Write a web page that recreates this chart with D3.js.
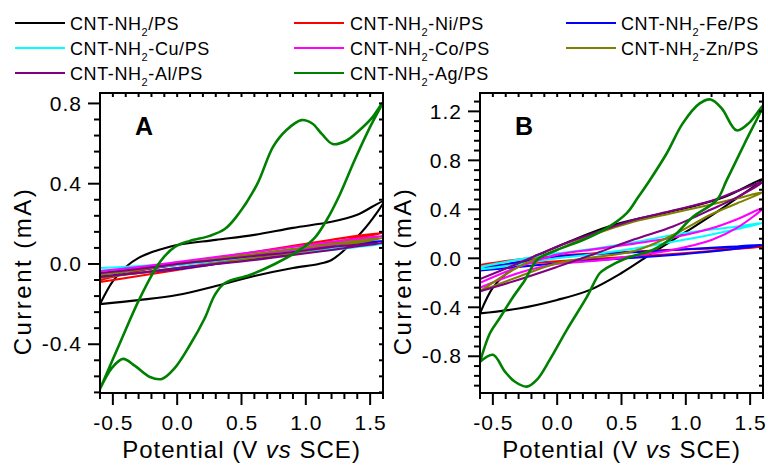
<!DOCTYPE html>
<html><head><meta charset="utf-8">
<script src="https://cdn.jsdelivr.net/npm/d3@7"></script>
<style>
body{margin:0;background:#fff}
svg{display:block}
text{font-family:"Liberation Sans",Arial,Helvetica,sans-serif;fill:#000}
</style>
</head><body>
<svg id="chart" width="768" height="466"></svg>
<script>
// ---------------- data ----------------
const seriesLabels = ["CNT-NH2/PS","CNT-NH2-Ni/PS","CNT-NH2-Fe/PS","CNT-NH2-Cu/PS","CNT-NH2-Co/PS","CNT-NH2-Zn/PS","CNT-NH2-Al/PS","CNT-NH2-Ag/PS"];
const potentialTicks = [-0.5, 0.0, 0.5, 1.0, 1.5];
const currentTicksA = [-0.4, 0.0, 0.4, 0.8];
const currentTicksB = [-0.8, -0.4, 0.0, 0.4, 0.8, 1.2];

// shared potential sweep for the thin loops (V vs SCE)
const loopE = [-0.6,-0.3,0.0,0.3,0.6,0.9,1.2,1.4,1.6,1.4,1.2,0.9,0.6,0.3,0.0,-0.3,-0.6];

// Panel A currents (mA)
const A_black_E = [-0.6,-0.3,0.0,0.3,0.6,0.9,1.1,1.2,1.3,1.4,1.5,1.6,1.4,1.2,0.9,0.6,0.3,0.0,-0.1,-0.2,-0.3,-0.4,-0.5,-0.6];
const A_black_I = [-0.2,-0.18,-0.155,-0.11,-0.06,-0.02,0.0,0.02,0.07,0.135,0.21,0.31,0.245,0.21,0.18,0.145,0.12,0.095,0.078,0.058,0.03,-0.015,-0.085,-0.2];
const A_ni_I = [-0.09,-0.06,-0.03,0.0,0.035,0.07,0.105,0.13,0.155,0.14,0.12,0.09,0.06,0.03,0.0,-0.035,-0.08];
const A_fe_I = [-0.06,-0.045,-0.025,0.0,0.025,0.05,0.075,0.095,0.115,0.105,0.09,0.065,0.04,0.015,-0.005,-0.03,-0.05];
const A_cu_I = [-0.035,-0.02,-0.005,0.015,0.035,0.055,0.07,0.085,0.1,0.09,0.08,0.065,0.045,0.025,0.005,-0.01,-0.02];
const A_co_I = [-0.05,-0.025,0.0,0.02,0.045,0.07,0.095,0.115,0.14,0.125,0.11,0.085,0.06,0.035,0.01,-0.015,-0.035];
const A_zn_I = [-0.07,-0.045,-0.02,0.005,0.03,0.055,0.085,0.105,0.13,0.115,0.1,0.075,0.05,0.025,0.0,-0.03,-0.055];
const A_al_I = [-0.065,-0.045,-0.02,0.0,0.02,0.045,0.07,0.088,0.105,0.095,0.085,0.06,0.04,0.02,0.0,-0.025,-0.045];
const A_ag_E = [-0.6,-0.445,-0.289,-0.134,-0.018,0.099,0.254,0.37,0.461,0.619,0.746,0.85,0.966,1.05,1.124,1.209,1.31,1.419,1.512,1.6,1.496,1.38,1.263,1.162,1.069,0.953,0.759,0.565,0.371,0.293,0.215,0.099,-0.018,-0.119,-0.212,-0.328,-0.421,-0.507,-0.6];
const A_ag_I = [-0.623,-0.394,-0.169,0.01,0.085,0.115,0.14,0.174,0.236,0.394,0.585,0.668,0.717,0.7,0.648,0.598,0.613,0.668,0.727,0.807,0.678,0.518,0.344,0.219,0.13,0.07,0.0,-0.055,-0.095,-0.154,-0.269,-0.404,-0.518,-0.573,-0.563,-0.508,-0.473,-0.518,-0.623];

// Panel B currents (mA)
const B_black_E = [-0.6,-0.3,0.0,0.25,0.5,0.75,1.0,1.3,1.6,1.3,1.0,0.7,0.4,0.1,-0.1,-0.25,-0.4,-0.5,-0.6];
const B_black_I = [-0.45,-0.41,-0.34,-0.26,-0.12,0.05,0.215,0.42,0.65,0.5,0.41,0.34,0.26,0.14,0.05,-0.02,-0.13,-0.24,-0.45];
const B_ni_I = [-0.065,-0.045,-0.025,-0.005,0.015,0.035,0.06,0.078,0.095,0.088,0.08,0.07,0.055,0.04,0.02,-0.01,-0.055];
const B_fe_I = [-0.1,-0.07,-0.04,-0.015,0.005,0.027,0.055,0.08,0.11,0.097,0.085,0.068,0.05,0.035,0.015,-0.03,-0.09];
const B_cu_I = [-0.09,-0.05,0.0,0.035,0.08,0.135,0.195,0.24,0.29,0.26,0.235,0.19,0.13,0.08,0.04,-0.01,-0.07];
const B_co_I = [-0.24,-0.12,-0.045,-0.02,0.02,0.07,0.15,0.25,0.41,0.32,0.245,0.17,0.12,0.075,0.03,-0.07,-0.2];
const B_zn_I = [-0.27,-0.15,-0.04,0.01,0.06,0.19,0.36,0.45,0.54,0.49,0.44,0.37,0.3,0.2,0.07,-0.07,-0.27];
const B_al_I = [-0.27,-0.175,-0.07,0.04,0.155,0.26,0.4,0.5,0.625,0.55,0.47,0.39,0.315,0.21,0.095,-0.04,-0.17];
const B_ag_E = [-0.6,-0.522,-0.445,-0.352,-0.25,-0.157,-0.002,0.2,0.386,0.541,0.63,0.72,0.852,0.976,1.108,1.193,1.279,1.395,1.496,1.6,1.457,1.318,1.24,1.054,0.899,0.743,0.541,0.386,0.332,0.231,0.075,-0.057,-0.157,-0.235,-0.328,-0.406,-0.499,-0.6];
const B_ag_I = [-0.846,-0.61,-0.486,-0.33,-0.177,-0.014,0.068,0.149,0.247,0.369,0.5,0.638,0.858,1.102,1.265,1.297,1.224,1.045,1.11,1.248,0.938,0.638,0.475,0.337,0.174,0.068,0.002,-0.079,-0.12,-0.315,-0.584,-0.828,-0.991,-1.048,-1.008,-0.926,-0.788,-0.846];

// ---------------- styles ----------------
const seriesColors = ["#000000","#ff0000","#0000ff","#00ffff","#ff00ff","#808000","#800080","#008000"];

const panelAData = [
  {E:A_black_E, I:A_black_I}, {E:loopE, I:A_ni_I}, {E:loopE, I:A_fe_I}, {E:loopE, I:A_cu_I},
  {E:loopE, I:A_co_I}, {E:loopE, I:A_zn_I}, {E:loopE, I:A_al_I}, {E:A_ag_E, I:A_ag_I}];
const panelBData = [
  {E:B_black_E, I:B_black_I}, {E:loopE, I:B_ni_I}, {E:loopE, I:B_fe_I}, {E:loopE, I:B_cu_I},
  {E:loopE, I:B_co_I}, {E:loopE, I:B_zn_I}, {E:loopE, I:B_al_I}, {E:B_ag_E, I:B_ag_I}];

const svg = d3.select("#chart");
const FONT = '"Liberation Sans",Arial,Helvetica,sans-serif';
const tickJobs = [];

function drawPanel(cfg) {
  const {left, right, top, bottom, yDomain, majorY, minorYRange, data, letter, id} = cfg;
  const x = d3.scaleLinear().domain([-0.6, 1.6]).range([left, right]);
  const y = d3.scaleLinear().domain(yDomain).range([bottom, top]);
  const g = svg.append("g");

  const defs = g.append("defs");
  defs.append("clipPath").attr("id", "clip" + id)
    .append("rect").attr("x", left).attr("y", top).attr("width", right - left).attr("height", bottom - top);

  const line = d3.line().x(d => x(d[0])).y(d => y(d[1])).curve(d3.curveCatmullRom.alpha(0.5));
  const curves = g.append("g").attr("clip-path", `url(#clip${id})`);
  data.forEach((s, i) => {
    const pts = s.E.map((e, k) => [e, s.I[k]]);
    curves.append("path").attr("d", line(pts)).attr("fill", "none")
      .attr("stroke", seriesColors[i]).attr("stroke-width", i === 7 ? 2.6 : 2.1)
      .attr("stroke-linejoin", "round");
  });

  // tick labels via d3 axes
  const fmt = d => d3.format(".1f")(d).replace("\u2212", "-");
  const bx = g.append("g").attr("transform", `translate(0,${bottom})`)
    .call(d3.axisBottom(x).tickValues(potentialTicks).tickSize(0).tickPadding(22).tickFormat(fmt));
  bx.select(".domain").remove();
  bx.selectAll("text").attr("font-family", FONT).attr("font-size", 21).attr("letter-spacing", 1).attr("fill", "#000");
  const ly = g.append("g").attr("transform", `translate(${left},0)`)
    .call(d3.axisLeft(y).tickValues(majorY).tickSize(0).tickPadding(18).tickFormat(fmt));
  ly.select(".domain").remove();
  ly.selectAll("text").attr("font-family", FONT).attr("font-size", 21).attr("letter-spacing", 1).attr("fill", "#000");

  // frame
  g.append("rect").attr("x", left).attr("y", top).attr("width", right - left).attr("height", bottom - top)
    .attr("fill", "none").attr("stroke", "#000").attr("stroke-width", 2);

  // axis titles
  const xt = g.append("text").attr("x", (left + right) / 2).attr("y", 458).attr("text-anchor", "middle")
    .attr("font-size", 24).attr("letter-spacing", 1);
  xt.append("tspan").text("Potential (V ");
  xt.append("tspan").attr("font-style", "italic").text("vs");
  xt.append("tspan").text(" SCE)");

  g.append("text").attr("transform", `translate(${left - 69},${(top + bottom) / 2 + 28}) rotate(-90)`)
    .attr("text-anchor", "middle").attr("font-size", 24).attr("letter-spacing", 2.5).text("Current (mA)");

  g.append("text").attr("x", left + 35).attr("y", 135).attr("font-size", 25).attr("font-weight", "bold").text(letter);

  tickJobs.push({x, y, left, right, top, bottom, majorY, minorYRange});
}

drawPanel({left:100, right:383, top:93, bottom:393, yDomain:[-0.643, 0.852], majorY:currentTicksA,
  minorYRange:[-8, 10], data:panelAData, letter:"A", id:"A"});
drawPanel({left:480, right:763, top:93, bottom:393, yDomain:[-1.1, 1.35], majorY:currentTicksB,
  minorYRange:[-13, 16], data:panelBData, letter:"B", id:"B"});

// ---------------- legend ----------------
const legCols = [{lx:15, tx:70}, {lx:294, tx:350}, {lx:566, tx:621}];
const legRows = [23, 48, 73];
const leg = svg.append("g");
seriesLabels.forEach((lab, i) => {
  const c = legCols[i % 3], yy = legRows[Math.floor(i / 3)];
  leg.append("line").attr("x1", c.lx).attr("x2", c.lx + 50).attr("y1", yy).attr("y2", yy)
    .attr("stroke", seriesColors[i]).attr("stroke-width", 2.2);
  const t = leg.append("text").attr("x", c.tx).attr("y", yy + 6.5).attr("font-size", 18).attr("letter-spacing", 0.6);
  const k = lab.indexOf("NH2") + 2;
  t.append("tspan").text(lab.slice(0, k));
  t.append("tspan").attr("font-size", 11).attr("dy", 6).text("2");
  t.append("tspan").attr("dy", -6).text(lab.slice(k + 1));
});

// ---------------- tick marks (top-level group, drawn last) ----------------
const tickLayer = svg.append("g");
tickJobs.forEach(j => {
  const minorX = d3.range(-6, 17).map(k => +(k / 10).toFixed(1));
  const minorY = d3.range(j.minorYRange[0], j.minorYRange[1] + 1).map(k => +(k * 0.08).toFixed(2));
  const isMajX = v => potentialTicks.some(t => Math.abs(t - v) < 1e-6);
  const isMajY = v => j.majorY.some(t => Math.abs(t - v) < 1e-6);
  minorX.forEach(v => {
    const px = j.x(v);
    tickLayer.append("line").attr("x1", px).attr("x2", px).attr("y1", j.bottom).attr("y2", j.bottom + (isMajX(v) ? 12 : 6))
      .attr("stroke", "#000").attr("stroke-width", 2);
    tickLayer.append("line").attr("x1", px).attr("x2", px).attr("y1", j.top).attr("y2", j.top + 4)
      .attr("stroke", "#000").attr("stroke-width", 2);
  });
  minorY.forEach(v => {
    const py = j.y(v);
    tickLayer.append("line").attr("y1", py).attr("y2", py).attr("x1", j.left).attr("x2", j.left - (isMajY(v) ? 12 : 6))
      .attr("stroke", "#000").attr("stroke-width", 2);
    tickLayer.append("line").attr("y1", py).attr("y2", py).attr("x1", j.right).attr("x2", j.right - 4)
      .attr("stroke", "#000").attr("stroke-width", 2);
  });
});
</script>
</body></html>
